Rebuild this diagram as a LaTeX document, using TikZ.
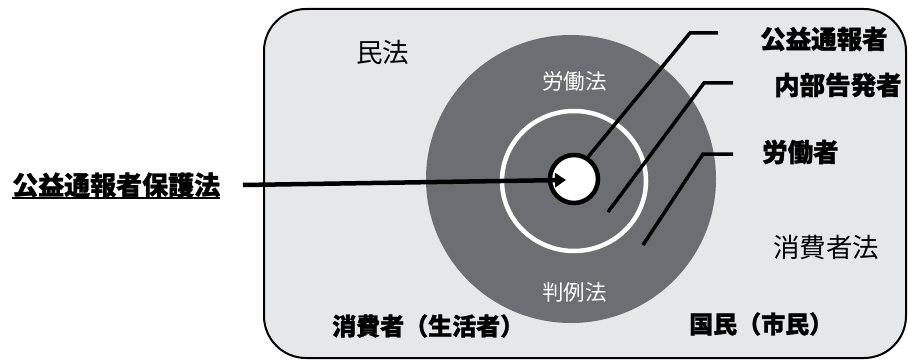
\documentclass[tikz,border=0pt]{standalone}
\usepackage{fontspec}
\newfontfamily\cjk{Noto Sans CJK JP}
\newfontfamily\cjkbold{Noto Sans CJK JP}[BoldFeatures={FakeBold=1.2}]
\usetikzlibrary{arrows.meta}
\definecolor{bgfill}{HTML}{E6E7E9}
\definecolor{darkfill}{HTML}{6D6E71}
\tikzset{
  x=1pt,y=-1pt,
  lightlabel/.style={inner sep=0pt,font=\cjk\fontsize{26.5}{26.5}\selectfont,text=black},
  whitelabel/.style={inner sep=0pt,font=\cjk\fontsize{21.5}{21.5}\selectfont,text=white},
  boldlabel/.style={inner sep=0pt,font=\cjkbold\bfseries\fontsize{24}{24}\selectfont,text=black},
  leader/.style={draw=black,line width=3.5pt},
}
\begin{document}
\begin{tikzpicture}
\useasboundingbox (0,0) rectangle (908,361);
% outer rounded box
\draw[fill=bgfill,line width=2pt,rounded corners=42pt] (264,9) rectangle (906,358);
% big dark disc
\fill[darkfill] (571,179) ellipse[x radius=145,y radius=144];
% white ring
\draw[white,line width=4.5pt] (574,181) ellipse[x radius=72,y radius=70];
% inner circle
\node[circle,draw=black,fill=white,line width=4.5pt,minimum size=48pt,inner sep=0pt] (core) at (574,179) {};
% texts
\node[lightlabel,anchor=west] (minpo) at (356,52) {民法};
\node[lightlabel,anchor=west] (shohishaho) at (773,247) {消費者法};
\node[whitelabel,anchor=west] (rodoho) at (542,81) {労働法};
\node[whitelabel,anchor=west] (hanreiho) at (542,292) {判例法};
\node[boldlabel,anchor=west] (shohisha) at (332,326) {消費者（生活者）};
\node[boldlabel,anchor=west] (kokumin) at (689,324) {国民（市民）};
\node[boldlabel,anchor=west,font=\cjkbold\bfseries\fontsize{25.5}{25.5}\selectfont] (koeki) at (760,39) {公益通報者};
\node[boldlabel,anchor=west,font=\cjkbold\bfseries\fontsize{25.5}{25.5}\selectfont] (naibu) at (774,85) {内部告発者};
\node[boldlabel,anchor=west,font=\cjkbold\bfseries\fontsize{25.5}{25.5}\selectfont] (rodosha) at (762,152) {労働者};
\node[boldlabel,anchor=west,font=\cjkbold\bfseries\fontsize{26}{26}\selectfont] (hogoho) at (12,185) {公益通報者保護法};
\coordinate (ulA) at (12,198);
\draw[line width=1.8pt] (ulA) -- (hogoho.east |- ulA);
% main arrow
\coordinate (arrowtip) at (566,180);
\draw[line width=4.5pt,-{Triangle[length=11pt,width=14pt]}] (243,185) coordinate (arrowstart) -- (arrowtip);
% leader lines
\coordinate (k1) at (718,33);
\coordinate (k1b) at (690,33);
\coordinate (k1e) at (588,157);
\draw[leader] (k1) -- (k1b) -- (k1e);
\coordinate (n1) at (733,83);
\coordinate (n1b) at (704,83);
\coordinate (n1e) at (608,212);
\draw[leader] (n1) -- (n1b) -- (n1e);
\coordinate (r1) at (733,154);
\coordinate (r1b) at (703,154);
\coordinate (r1e) at (643,245);
\draw[leader] (r1) -- (r1b) -- (r1e);
\end{tikzpicture}
\end{document}
